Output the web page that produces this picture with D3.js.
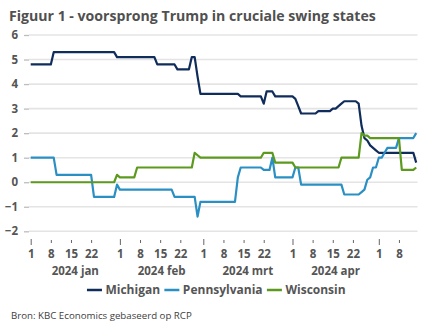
<!DOCTYPE html>
<html>
<head>
<meta charset="utf-8">
<script src="https://cdn.jsdelivr.net/npm/d3@7"></script>
<style>
body{margin:0;background:#fff;}
text{font-family:"Open Sans",sans-serif;}
</style>
</head>
<body>
<div id="chart"></div>
<script>

//daily values, one per day from 1 jan 2024
var startDate = new Date(2024, 0, 1);

var michigan = [
  4.8,4.8,4.8,4.8,4.8,4.8,4.8,4.8, 5.3,5.3,5.3,5.3,5.3,5.3,5.3,5.3,5.3,5.3, 5.3,5.3,5.3,5.3,5.3,5.3,5.3,5.3,5.3,5.3, 5.3,5.3, 5.1, //jan
  5.1,5.1,5.1,5.1,5.1,5.1,5.1,5.1,5.1,5.1,5.1,5.1,5.1, 4.8,4.8,4.8,4.8,4.8,4.8,4.8, 4.6,4.6,4.6,4.6,4.6, 5.1,5.1, 4.3, 3.6, //feb
  3.6,3.6,3.6,3.6,3.6,3.6,3.6,3.6,3.6,3.6,3.6,3.6,3.6, 3.5,3.5,3.5,3.5,3.5,3.5,3.5,3.5, 3.2, 3.7,3.7,3.7, 3.5,3.5,3.5,3.5,3.5,3.5, //mrt
  3.5, 3.4, 3.1, 2.8,2.8,2.8,2.8,2.8,2.8, 2.9,2.9,2.9,2.9,2.9, 3.0,3.0, 3.1, 3.2, 3.3,3.3,3.3,3.3,3.3, 3.2, 2.3, 1.8, 1.7, 1.5, 1.4, 1.3, //apr
  1.2,1.2,1.2,1.2,1.2,1.2,1.2,1.2,1.2,1.2,1.2,1.2,1.2, 0.8 //mei
];

var pennsylvania = [
  1.0,1.0,1.0,1.0,1.0,1.0,1.0,1.0,1.0, 0.3,0.3,0.3,0.3,0.3,0.3,0.3,0.3,0.3,0.3,0.3,0.3,0.3, -0.6,-0.6,-0.6,-0.6,-0.6,-0.6,-0.6,-0.6, -0.1, //jan
  -0.3,-0.3,-0.3,-0.3,-0.3,-0.3,-0.3,-0.3,-0.3,-0.3,-0.3,-0.3,-0.3,-0.3,-0.3,-0.3,-0.3,-0.3,-0.3, -0.6,-0.6,-0.6,-0.6,-0.6,-0.6,-0.6,-0.6, -1.4, -0.8, //feb
  -0.8,-0.8,-0.8,-0.8,-0.8,-0.8,-0.8,-0.8,-0.8,-0.8,-0.8,-0.8, 0.2, 0.6,0.6,0.6,0.6,0.6,0.6,0.6,0.6, 0.5,0.5,0.5, 1.0, 0.2,0.2,0.2,0.2,0.2,0.2, //mrt
  0.2, 0.6,0.6, -0.1,-0.1,-0.1,-0.1,-0.1,-0.1,-0.1,-0.1,-0.1,-0.1,-0.1,-0.1,-0.1,-0.1,-0.1, -0.5,-0.5,-0.5,-0.5,-0.5,-0.5, -0.4, -0.3, 0.1, 0.2, 0.6,0.6, //apr
  1.0,1.0, 1.2, 1.4,1.4,1.4,1.4, 1.8,1.8,1.8,1.8,1.8,1.8, 2.0 //mei
];

var wisconsin = [
  0,0,0,0,0,0,0,0,0,0, 0,0,0,0,0,0,0,0,0,0, 0,0,0,0,0,0,0,0,0,0, 0.3, //jan
  0.2,0.2,0.2,0.2,0.2,0.2, 0.6,0.6,0.6,0.6,0.6,0.6,0.6,0.6,0.6,0.6, 0.6,0.6,0.6,0.6,0.6,0.6,0.6,0.6,0.6,0.6, 1.2, 1.1, 1.0, //feb
  1.0,1.0,1.0,1.0,1.0,1.0,1.0,1.0,1.0,1.0, 1.0,1.0,1.0,1.0,1.0,1.0,1.0,1.0,1.0,1.0, 1.0, 1.2,1.2,1.2,1.2, 0.8,0.8,0.8,0.8,0.8,0.8, //mrt
  0.8, 0.6,0.6,0.6,0.6,0.6,0.6,0.6,0.6,0.6,0.6,0.6,0.6,0.6,0.6,0.6,0.6, 1.0,1.0,1.0,1.0,1.0,1.0,1.0, 2.0, 1.9,1.9, 1.8,1.8,1.8, //apr
  1.8,1.8,1.8,1.8,1.8,1.8,1.8,1.8, 0.5,0.5,0.5,0.5,0.5, 0.6 //mei
];

var seriesNames = ["Michigan", "Pennsylvania", "Wisconsin"];
var seriesColors = ["#0f2c5b", "#2a8fc3", "#5c9a1f"];

var yTicks = [-2, -1, 0, 1, 2, 3, 4, 5, 6];
var tickDays = [1, 8, 15, 22];
var monthLabels = ["2024 jan", "2024 feb", "2024 mrt", "2024 apr"];

var titleText = "Figuur 1 - voorsprong Trump in cruciale swing states";
var sourceText = "Bron: KBC Economics gebaseerd op RCP";

if (michigan.length !== 135 || pennsylvania.length !== 135 || wisconsin.length !== 135) {
    throw new Error("lengths " + michigan.length + " " + pennsylvania.length + " " + wisconsin.length);
}

var width = 432, height = 334;

var svg = d3.select('#chart')
    .append('svg')
    .attr('width', width)
    .attr('height', height);

var dates = michigan.map(function(d, i){ return d3.timeDay.offset(startDate, i); });
var endDate = dates[dates.length - 1];

var x = d3.scaleTime().domain([startDate, endDate]).range([30.7, 416.2]);
var y = d3.scaleLinear().domain([-2, 6]).range([231.3, 35]);

//fit a text to a width
function fitText(sel, w){
    var fs = parseFloat(sel.attr('font-size'));
    var cur = sel.node().getComputedTextLength();
    sel.attr('font-size', fs * w / cur);
}

//title
var title = svg.append('text')
    .attr('x', 9).attr('y', 21)
    .attr('font-size', 15)
    .attr('font-weight', 700)
    .attr('fill', '#505050')
    .text(titleText);
fitText(title, 367);

//grid
svg.append('g').selectAll('line')
    .data(yTicks)
    .enter().append('line')
    .attr('x1', 29).attr('x2', 417.5)
    .attr('y1', function(d){ return y(d); })
    .attr('y2', function(d){ return y(d); })
    .attr('stroke', '#e4e4e4')
    .attr('stroke-width', 1.6);

//y axis
var yAxis = svg.append('g')
    .attr('transform', 'translate(29,0)')
    .call(d3.axisLeft(y).tickValues(yTicks).tickSize(5).tickPadding(6).tickFormat(d3.format('d')));
yAxis.select('.domain').remove();
yAxis.selectAll('line').attr('stroke', '#bdbdbd').attr('stroke-width', 1.3);
yAxis.selectAll('text')
    .attr('font-family', '"Open Sans",sans-serif')
    .attr('font-size', 11.5)
    .attr('font-weight', 700)
    .attr('fill', '#555');

//x axis
var tickDates = [];
for (var m = 0; m < 5; m++) {
    tickDays.forEach(function(day){
        var dt = new Date(2024, m, day);
        if (dt <= endDate) tickDates.push(dt);
    });
}

var xAxis = svg.append('g')
    .attr('transform', 'translate(0,240)')
    .call(d3.axisBottom(x).tickValues(tickDates).tickSize(3).tickSizeOuter(0).tickFormat(d3.timeFormat('%-d')));
xAxis.select('.domain').remove();
xAxis.selectAll('line')
    .attr('stroke', '#666')
    .attr('stroke-width', 1)
    .attr('y1', function(d){ return d.getDate() === 1 ? -1 : 0; })
    .attr('y2', function(d){ return d.getDate() === 1 ? 5 : 3; });
xAxis.selectAll('text')
    .attr('y', 17.5).attr('dy', 0)
    .attr('font-family', '"Open Sans",sans-serif')
    .attr('font-size', 11.5)
    .attr('font-weight', 700)
    .attr('fill', '#555');

//month labels, centred on each month
svg.append('g').selectAll('text')
    .data(monthLabels)
    .enter().append('text')
    .attr('x', function(d, i){
        return (x(new Date(2024, i, 1)) + x(new Date(2024, i + 1, 1))) / 2;
    })
    .attr('y', 275)
    .attr('text-anchor', 'middle')
    .attr('font-size', 11.5)
    .attr('font-weight', 700)
    .attr('fill', '#555')
    .text(function(d){ return d; });

//lines
var allSeries = [michigan, pennsylvania, wisconsin];
var line = d3.line()
    .x(function(d, i){ return x(dates[i]); })
    .y(function(d){ return y(d); });

svg.append('g').selectAll('path')
    .data(allSeries)
    .enter().append('path')
    .attr('d', line)
    .attr('fill', 'none')
    .attr('stroke', function(d, i){ return seriesColors[i]; })
    .attr('stroke-width', 2.2)
    .attr('stroke-linejoin', 'round');

//legend
var legend = svg.append('g');
var items = legend.selectAll('g')
    .data(seriesNames)
    .enter().append('g');
items.append('line')
    .attr('x1', 0).attr('x2', 15)
    .attr('y1', 290).attr('y2', 290)
    .attr('stroke', function(d, i){ return seriesColors[i]; })
    .attr('stroke-width', 2.5);
items.append('text')
    .attr('x', 18.5).attr('y', 294.2)
    .attr('font-size', 12)
    .attr('font-weight', 700)
    .attr('fill', '#555')
    .text(function(d){ return d; });

var pos = 0, offsets = [];
items.each(function(){
    offsets.push(pos);
    pos += 18.5 + d3.select(this).select('text').node().getComputedTextLength() + 4.3;
});
var legendW = pos - 4.3;
var legendX = 216.3 - legendW / 2;
items.attr('transform', function(d, i){ return 'translate(' + (legendX + offsets[i]) + ',0)'; });

//source
var source = svg.append('text')
    .attr('x', 11).attr('y', 318.5)
    .attr('font-size', 10)
    .attr('fill', '#404040')
    .text(sourceText);
fitText(source, 181);

</script>
</body>
</html>
